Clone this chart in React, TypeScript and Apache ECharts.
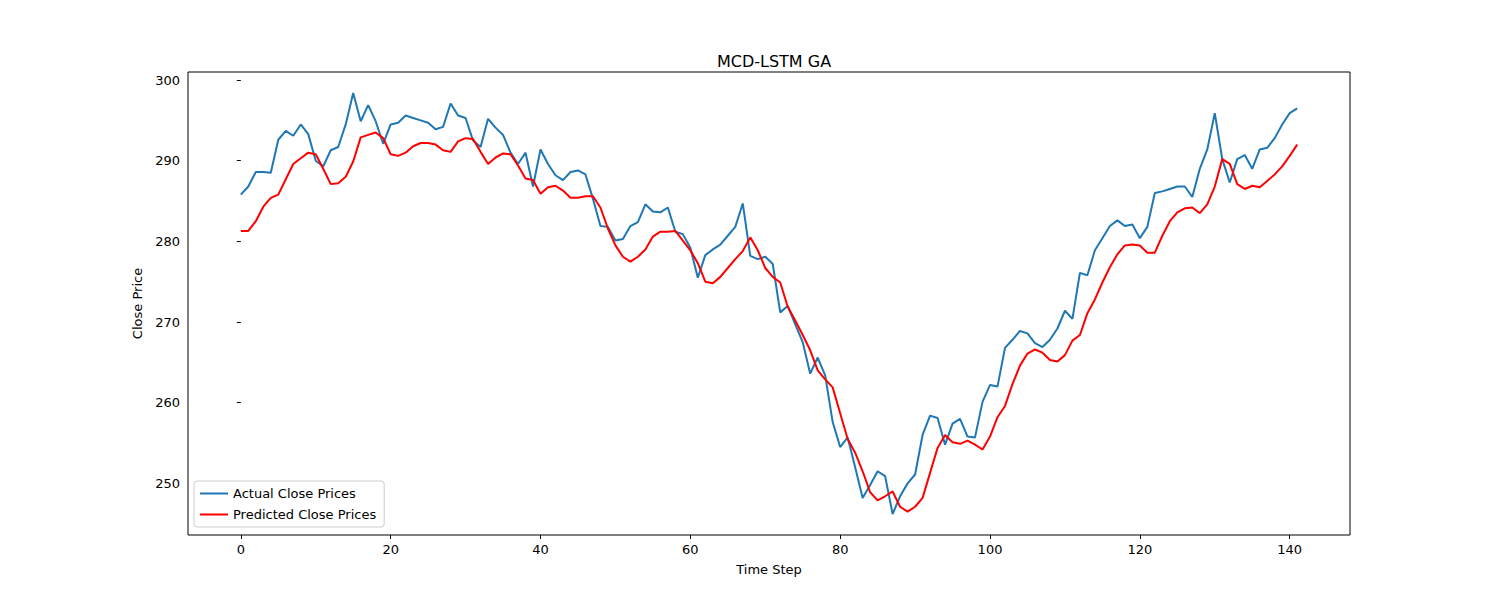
import { useEffect, useRef } from 'react';
import * as echarts from 'echarts';

const actual = [
  285.8, 286.8, 288.6, 288.6, 288.5, 292.6, 293.7, 293.1, 294.5, 293.3,
  290.0, 289.3, 291.3, 291.7, 294.5, 298.4, 294.9, 296.9, 294.9, 292.1,
  294.5, 294.7, 295.6, 295.3, 295.0, 294.7, 293.9, 294.2, 297.1, 295.6,
  295.3, 292.5, 291.7, 295.2, 294.1, 293.2, 291.0, 289.6, 291.0, 286.8,
  291.4, 289.6, 288.2, 287.6, 288.6, 288.8, 288.3, 285.3, 281.9, 281.8,
  280.1, 280.3, 281.9, 282.4, 284.6, 283.7, 283.6, 284.2, 281.2, 280.9,
  279.2, 275.5, 278.3, 279.0, 279.6, 280.7, 281.8, 284.7, 278.2, 277.8,
  278.1, 277.2, 271.2, 272.0, 269.7, 267.5, 263.6, 265.6, 263.4, 257.6,
  254.5, 255.7, 252.0, 248.2, 249.8, 251.5, 250.9, 246.2, 248.4, 250.0,
  251.1, 256.0, 258.4, 258.1, 254.8, 257.4, 258.0, 255.8, 255.7, 260.1,
  262.2, 262.0, 266.8, 267.8, 268.9, 268.6, 267.4, 266.9, 267.8, 269.2,
  271.4, 270.4, 276.1, 275.8, 278.9, 280.4, 281.9, 282.6, 281.9, 282.1,
  280.4, 281.8, 286.0, 286.2, 286.5, 286.8, 286.8, 285.5, 289.0, 291.4,
  295.9, 290.2, 287.3, 290.2, 290.7, 289.0, 291.4, 291.6, 292.8, 294.5,
  295.9, 296.5,
];

const predicted = [
  281.3, 281.3, 282.5, 284.3, 285.4, 285.8, 287.7, 289.6, 290.3, 291.0,
  290.8, 289.0, 287.1, 287.2, 288.0, 289.9, 292.9, 293.2, 293.5, 292.8,
  290.8, 290.6, 291.0, 291.8, 292.2, 292.2, 292.0, 291.3, 291.1, 292.4,
  292.8, 292.7, 291.1, 289.6, 290.4, 290.9, 290.8, 289.4, 287.8, 287.6,
  285.9, 286.7, 286.9, 286.3, 285.4, 285.4, 285.6, 285.6, 284.2, 281.6,
  279.5, 278.1, 277.5, 278.1, 279.0, 280.6, 281.2, 281.2, 281.3, 280.1,
  278.9, 277.3, 275.0, 274.8, 275.6, 276.7, 277.8, 278.8, 280.5, 278.9,
  276.7, 275.6, 274.9, 271.9, 270.2, 268.4, 266.5, 264.0, 262.9, 261.9,
  258.7, 255.5, 253.8, 251.5, 248.9, 247.9, 248.4, 249.0, 247.1, 246.5,
  247.1, 248.2, 251.3, 254.4, 256.0, 255.1, 254.9, 255.3, 254.8, 254.2,
  255.8, 258.2, 259.6, 262.3, 264.6, 266.1, 266.6, 266.2, 265.3, 265.1,
  265.9, 267.7, 268.4, 271.1, 272.8, 274.9, 276.8, 278.4, 279.5, 279.6,
  279.5, 278.6, 278.6, 280.7, 282.5, 283.6, 284.1, 284.2, 283.5, 284.6,
  286.8, 290.2, 289.6, 287.1, 286.5, 286.9, 286.7, 287.5, 288.3, 289.3,
  290.6, 292.0,
];

const xTicks = [0, 20, 40, 60, 80, 100, 120, 140];
const yTicks = [250, 260, 270, 280, 290, 300];

const FONT = 'DejaVu Sans';

export default function App() {
  const chartRef = useRef<HTMLDivElement | null>(null);

  useEffect(() => {
    if (!chartRef.current) return;
    const chart = echarts.init(chartRef.current, null, { renderer: 'svg' });

    const axisCommon = {
      axisLine: { show: false },
      splitLine: { show: false },
      axisTick: { show: true, length: 4, inside: false, lineStyle: { color: '#000' } },
      axisLabel: { color: '#000', fontSize: 13, fontFamily: FONT, margin: 8 },
      nameTextStyle: { color: '#000', fontSize: 13, fontFamily: FONT },
    };

    chart.setOption({
      animation: false,
      textStyle: { fontFamily: FONT },
      title: {
        text: 'MCD-LSTM GA',
        left: 769,
        top: 48,
        textAlign: 'center',
        textStyle: { fontSize: 16, fontWeight: 'normal', color: '#000', fontFamily: FONT },
      },
      grid: {
        left: 188,
        right: 150,
        top: 72,
        bottom: 65,
        show: true,
        borderColor: '#000',
        borderWidth: 1,
      },
      legend: {
        orient: 'vertical',
        left: 194,
        bottom: 73,
        icon: 'rect',
        itemWidth: 28,
        itemHeight: 2,
        itemGap: 8,
        padding: [6, 8, 6, 6],
        backgroundColor: '#fff',
        borderColor: '#ccc',
        borderWidth: 1,
        borderRadius: 3,
        textStyle: { fontSize: 13, color: '#000', fontFamily: FONT },
        data: ['Actual Close Prices', 'Predicted Close Prices'],
      },
      xAxis: {
        type: 'value',
        min: -7.05,
        max: 148.05,
        name: 'Time Step',
        nameLocation: 'middle',
        nameGap: 28,
        ...axisCommon,
        axisTick: { ...axisCommon.axisTick, customValues: xTicks },
        axisLabel: { ...axisCommon.axisLabel, customValues: xTicks },
      },
      yAxis: {
        type: 'value',
        min: 243.6,
        max: 301.0,
        name: 'Close Price',
        nameLocation: 'middle',
        nameGap: 44,
        ...axisCommon,
        axisTick: { ...axisCommon.axisTick, customValues: yTicks },
        axisLabel: { ...axisCommon.axisLabel, customValues: yTicks },
      },
      series: [
        {
          name: 'Actual Close Prices',
          type: 'line',
          data: actual.map((v, i) => [i, v]),
          showSymbol: false,
          lineStyle: { color: '#1f77b4', width: 2 },
          itemStyle: { color: '#1f77b4' },
        },
        {
          name: 'Predicted Close Prices',
          type: 'line',
          data: predicted.map((v, i) => [i, v]),
          showSymbol: false,
          lineStyle: { color: '#ff0000', width: 2 },
          itemStyle: { color: '#ff0000' },
        },
      ],
    });

    return () => chart.dispose();
  }, []);

  return <div ref={chartRef} style={{ width: 1500, height: 600, margin: -8 }} />;
}
